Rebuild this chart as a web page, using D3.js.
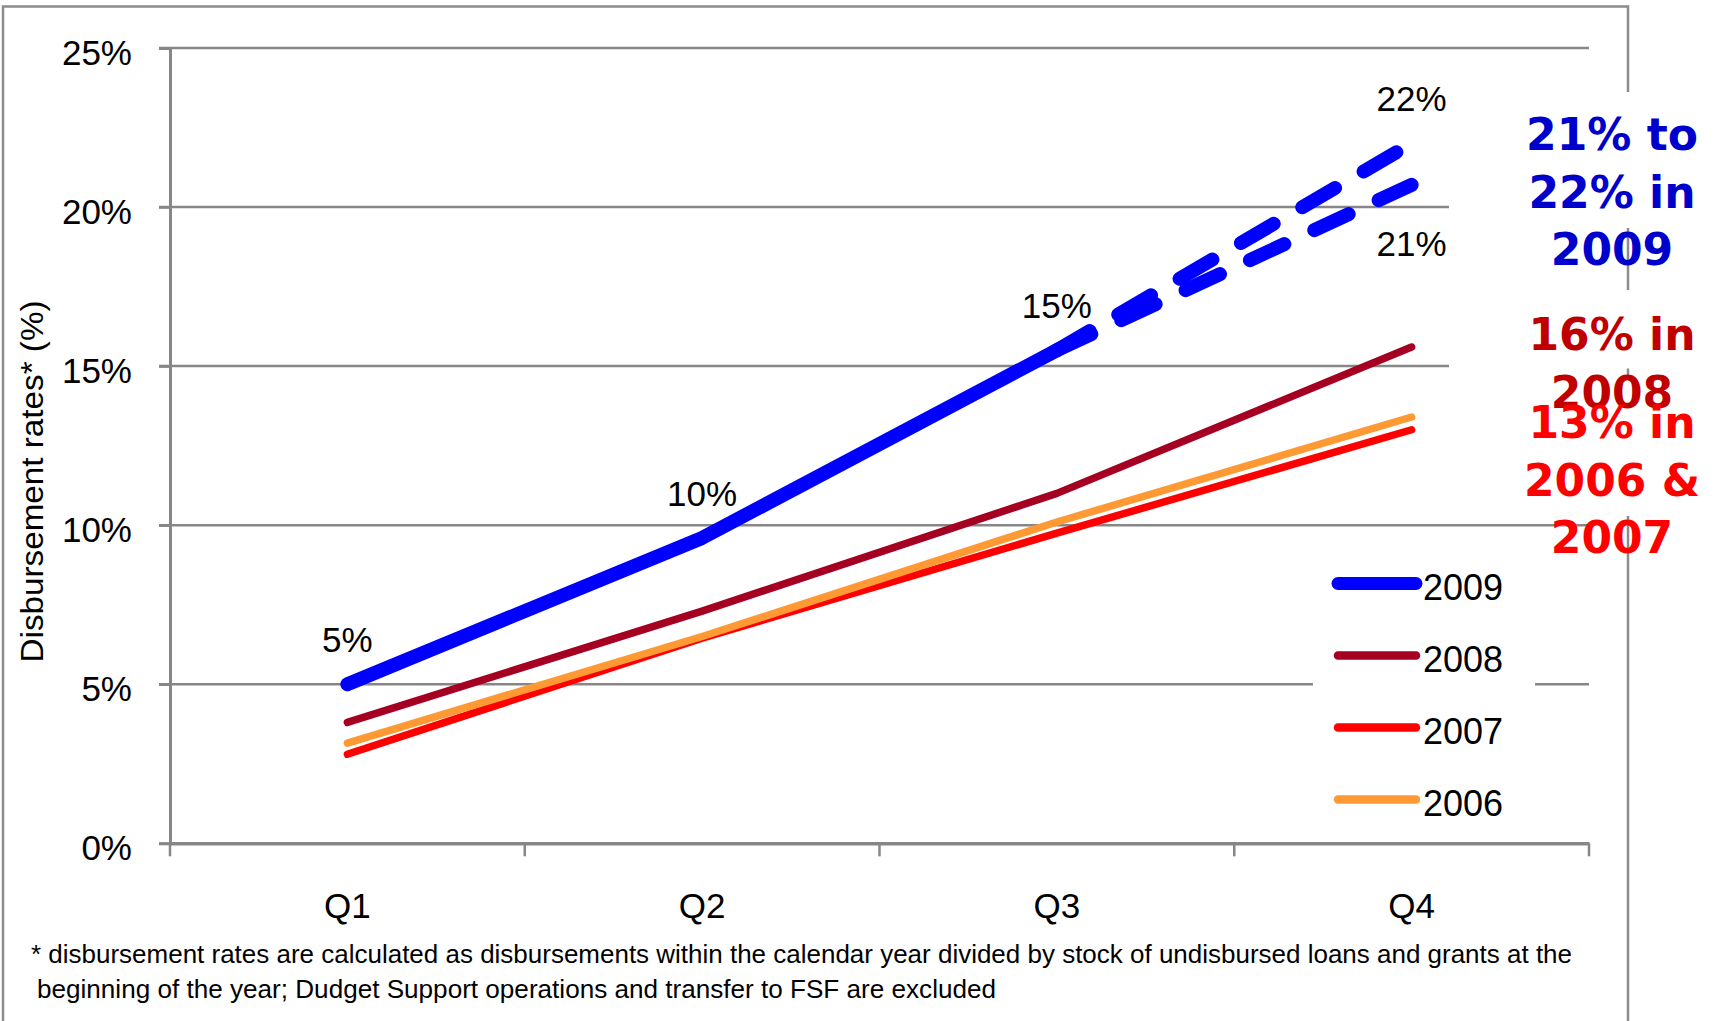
<!DOCTYPE html>
<html>
<head>
<meta charset="utf-8">
<script src="https://cdn.jsdelivr.net/npm/d3@7"></script>
<style>
  html, body { margin: 0; padding: 0; background: #fff; }
  svg { display: block; }
</style>
</head>
<body>
<svg id="chart" width="1716" height="1021"></svg>
<script>
// ---------- data ----------
const categories = ["Q1", "Q2", "Q3", "Q4"];
const yTicks = [0, 5, 10, 15, 20, 25];
const seriesNames = ["2009", "2008", "2007", "2006"];
const values2009 = [5.0, 9.6, 15.5, null];
const values2008 = [3.8, 7.3, 11.0, 15.6];
const values2007 = [2.8, 6.45, 9.75, 13.0];
const values2006 = [3.15, 6.5, 10.1, 13.4];
const proj2009High = [null, null, 15.5, 22.0];
const proj2009Low = [null, null, 15.5, 20.7];
const labels2009 = ["5%", "10%", "15%", null];
const labelsHigh = [null, null, null, "22%"];
const labelsLow = [null, null, null, "21%"];
const footnoteLines = [
  "* disbursement rates are calculated as disbursements within the calendar year divided by stock of undisbursed loans and grants at the",
  "beginning of the year; Dudget Support operations and transfer to FSF are excluded"
];
const noteBlue = ["21% to", "22% in", "2009"];
const note2008 = ["16% in", "2008"];
const note0607 = ["13% in", "2006 &", "2007"];

// ---------- setup ----------
const svg = d3.select("#chart");
const W = 1716, H = 1021;
const plotL = 170, plotR = 1589, plotT = 48, plotB = 843.3;
const gridColor = "#878787";
const arial = "'Liberation Sans', Arial, sans-serif";
const boldFont = "'DejaVu Sans', Verdana, sans-serif";

const x = d3.scaleBand().domain(categories).range([plotL, plotR]).padding(0);
const xc = c => x(c) + x.bandwidth() / 2;
const y = d3.scaleLinear().domain([0, 25]).range([plotB, plotT]);

// slide border
svg.append("rect").attr("x", 3).attr("y", 6.5).attr("width", 1625).attr("height", 1040)
  .attr("fill", "none").attr("stroke", "#8c8c8c").attr("stroke-width", 2.5);

// gridlines
svg.append("g").selectAll("line").data(yTicks.filter(d => d > 0)).join("line")
  .attr("x1", plotL - 11).attr("x2", plotR)
  .attr("y1", d => y(d)).attr("y2", d => y(d))
  .attr("stroke", gridColor).attr("stroke-width", 2.5);

// y axis
const yAxis = d3.axisLeft(y).tickValues(yTicks).tickFormat(d => d + "%").tickSize(11).tickPadding(27);
const gy = svg.append("g").attr("transform", `translate(${plotL},0)`).call(yAxis);
gy.select(".domain").attr("stroke", gridColor).attr("stroke-width", 3);
gy.selectAll(".tick line").attr("stroke", gridColor).attr("stroke-width", 2.5);
gy.selectAll(".tick text").attr("font-family", arial).attr("font-size", 35).attr("fill", "#000").attr("dy", "0.46em");

// x axis
const xAxis = d3.axisBottom(x).tickSize(0).tickPadding(50);
const gx = svg.append("g").attr("transform", `translate(0,${plotB})`).call(xAxis);
gx.select(".domain").attr("stroke", gridColor).attr("stroke-width", 3.5);
gx.selectAll(".tick text").attr("font-family", arial).attr("font-size", 35).attr("fill", "#000").attr("dy", "0.71em");
const bounds = categories.map(c => x(c)).concat([x(categories[categories.length - 1]) + x.bandwidth()]);
svg.append("g").selectAll("line").data(bounds).join("line")
  .attr("x1", d => d).attr("x2", d => d).attr("y1", plotB).attr("y2", plotB + 13)
  .attr("stroke", gridColor).attr("stroke-width", 2.5);

// axis title
svg.append("text")
  .attr("transform", "translate(43,481.5) rotate(-90)")
  .attr("text-anchor", "middle").attr("font-family", arial).attr("font-size", 31)
  .attr("textLength", 362).attr("lengthAdjust", "spacingAndGlyphs")
  .text("Disbursement rates* (%)");

// lines
const line = d3.line().defined(d => d.v !== null).x(d => xc(d.c)).y(d => y(d.v));
const toPts = arr => categories.map((c, i) => ({ c, v: arr[i] }));
const series = [
  { name: "2008", vals: values2008, color: "#A50021", width: 7.5 },
  { name: "2007", vals: values2007, color: "#FF0000", width: 7.5 },
  { name: "2006", vals: values2006, color: "#FF9933", width: 7.5 },
  { name: "2009", vals: values2009, color: "#0000FF", width: 14 }
];
const gl = svg.append("g");
series.forEach(s => {
  gl.append("path").datum(toPts(s.vals)).attr("d", line)
    .attr("fill", "none").attr("stroke", s.color).attr("stroke-width", s.width)
    .attr("stroke-linecap", "round").attr("stroke-linejoin", "round");
});
[proj2009Low, proj2009High].forEach(p => {
  gl.append("path").datum(toPts(p)).attr("d", line)
    .attr("fill", "none").attr("stroke", "#0000FF").attr("stroke-width", 14)
    .attr("stroke-linecap", "round").attr("stroke-dasharray", "38,33");
});

// data labels
function dataLabels(vals, labels, off) {
  svg.append("g").selectAll("text")
    .data(categories.map((c, i) => ({ c, v: vals[i], t: labels[i] })).filter(d => d.t && d.v !== null))
    .join("text")
    .attr("x", d => xc(d.c)).attr("y", d => y(d.v) + off)
    .attr("text-anchor", "middle").attr("font-family", arial).attr("font-size", 35).attr("fill", "#000")
    .text(d => d.t);
}
dataLabels(values2009, labels2009, -32);
dataLabels(proj2009High, labelsHigh, -32);
dataLabels(proj2009Low, labelsLow, 71);

// legend (white box)
svg.append("rect").attr("x", 1313).attr("y", 558).attr("width", 222).attr("height", 272).attr("fill", "#fff");
const legendItems = [
  { name: "2009", color: "#0000FF", width: 13 },
  { name: "2008", color: "#A50021", width: 8.5 },
  { name: "2007", color: "#FF0000", width: 8.5 },
  { name: "2006", color: "#FF9933", width: 8.5 }
];
const lg = svg.append("g").selectAll("g").data(legendItems).join("g")
  .attr("transform", (d, i) => `translate(0,${583.5 + i * 72})`);
lg.append("line").attr("x1", 1338).attr("x2", 1416).attr("y1", 0).attr("y2", 0)
  .attr("stroke", d => d.color).attr("stroke-width", d => d.width).attr("stroke-linecap", "round");
lg.append("text").attr("x", 1423).attr("y", 16).attr("font-family", arial).attr("font-size", 36)
  .attr("fill", "#000").text(d => d.name);

// annotation boxes
const notes = [
  { lines: noteBlue, color: "#0000CC", box: [92, 228], base: 150 },
  { lines: note2008, color: "#C00000", box: [290, 368.5], base: 350 },
  { lines: note0607, color: "#FF0000", box: [380, 516], base: 438 }
];
notes.forEach(n => {
  svg.append("rect").attr("x", 1449).attr("y", n.box[0]).attr("width", W - 1449)
    .attr("height", n.box[1] - n.box[0]).attr("fill", "#fff");
});
notes.forEach(n => {
  svg.append("g").selectAll("text").data(n.lines).join("text")
    .attr("x", 1612).attr("y", (d, i) => n.base + i * 57.5)
    .attr("text-anchor", "middle").attr("font-family", boldFont).attr("font-weight", "bold")
    .attr("font-size", 44).attr("fill", n.color).text(d => d);
});

// footnote
const fn = [
  { x: 31, y: 963, len: 1541 },
  { x: 37, y: 998, len: 959 }
];
svg.append("g").selectAll("text").data(footnoteLines).join("text")
  .attr("x", (d, i) => fn[i].x).attr("y", (d, i) => fn[i].y)
  .attr("textLength", (d, i) => fn[i].len).attr("lengthAdjust", "spacingAndGlyphs")
  .attr("font-family", arial).attr("font-size", 26).attr("fill", "#000")
  .text(d => d);
</script>
</body>
</html>
